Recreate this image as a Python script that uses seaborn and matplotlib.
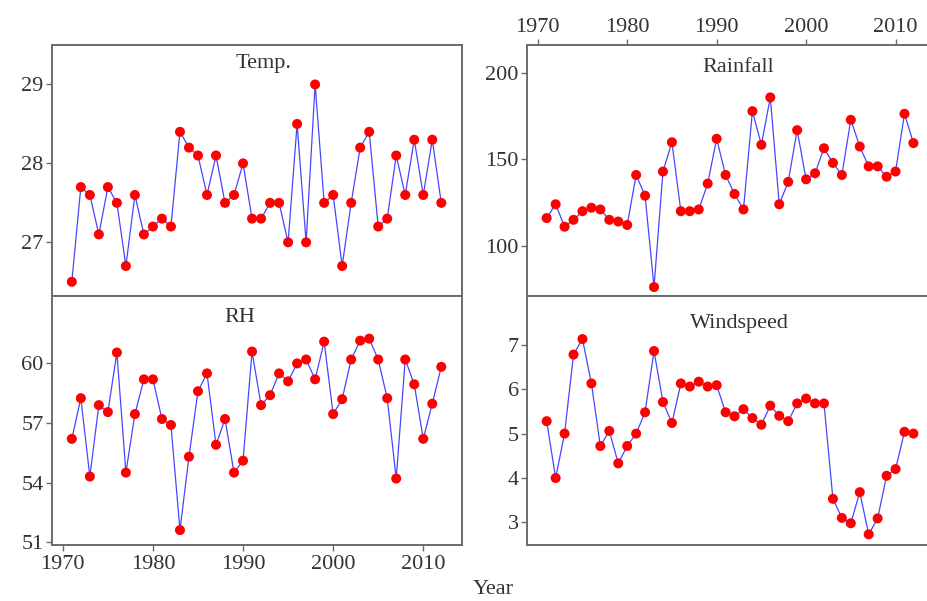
import numpy as np
import pandas as pd
import matplotlib
matplotlib.use('Agg')
import matplotlib.pyplot as plt
import seaborn as sns

years = list(range(1971, 2013))

temp = [26.5, 27.7, 27.6, 27.1, 27.7, 27.5, 26.7, 27.6, 27.1, 27.2,
        27.3, 27.2, 28.4, 28.2, 28.1, 27.6, 28.1, 27.5, 27.6, 28.0,
        27.3, 27.3, 27.5, 27.5, 27.0, 28.5, 27.0, 29.0, 27.5, 27.6,
        26.7, 27.5, 28.2, 28.4, 27.2, 27.3, 28.1, 27.6, 28.3, 27.6,
        28.3, 27.5]

rainfall = [116, 124, 111, 115, 120, 122, 121, 115, 114, 112,
            141, 129, 76, 143, 160, 120, 120, 121, 136, 162,
            141, 130, 121, 178, 158.5, 186, 124, 137, 167, 138.5,
            142, 156.5, 148, 141, 173, 157.5, 146, 146, 140, 143,
            176.5, 159.5]

rh = [56.2, 58.25, 54.3, 57.9, 57.55, 60.55, 54.5, 57.45, 59.2, 59.2,
      57.2, 56.9, 51.6, 55.3, 58.6, 59.5, 55.9, 57.2, 54.5, 55.1,
      60.6, 57.9, 58.4, 59.5, 59.1, 60.0, 60.2, 59.2, 61.1, 57.45,
      58.2, 60.2, 61.15, 61.25, 60.2, 58.25, 54.2, 60.2, 58.95, 56.2,
      57.97, 59.83]

windspeed = [5.28, 4.0, 5.0, 6.78, 7.13, 6.13, 4.72, 5.06, 4.33, 4.72,
             5.0, 5.48, 6.86, 5.71, 5.24, 6.13, 6.06, 6.17, 6.06, 6.09,
             5.48, 5.39, 5.55, 5.35, 5.2, 5.63, 5.4, 5.28, 5.68, 5.79,
             5.68, 5.68, 3.53, 3.1, 2.98, 3.68, 2.73, 3.09, 4.05, 4.2,
             5.04, 5.0]

year_ticks = [1970, 1980, 1990, 2000, 2010]

sns.set_style('ticks')
plt.rcParams['font.family'] = ['Liberation Serif', 'DejaVu Serif']

fig = plt.figure(figsize=(9.27, 6.01), dpi=100)

def fpos(x0, y0, x1, y1):
    # pixel box -> figure fraction
    return [x0 / 927, 1 - y1 / 601, (x1 - x0) / 927, (y1 - y0) / 601]

panels = [
    # name, data, pixel box, ylim, yticks, title pos, x ticks where
    ('Temp.', temp, (52, 45, 462, 296), (26.32, 29.5), [27, 28, 29], (0.515, 0.925), None),
    ('Rainfall', rainfall, (527, 45, 934, 296), (70.8, 216.4), [100, 150, 200], (0.518, 0.91), 'top'),
    ('RH', rh, (52, 296, 462, 545), (50.85, 63.4), [51, 54, 57, 60], (0.459, 0.915), 'bottom'),
    ('Windspeed', windspeed, (527, 296, 934, 545), (2.49, 8.1), [3, 4, 5, 6, 7], (0.523, 0.89), None),
]

spine_col = '#6b6b6b'
for name, vals, box, ylim, yticks, tpos, xside in panels:
    ax = fig.add_axes(fpos(*box))
    df = pd.DataFrame({'Year': years, 'val': vals})
    sns.lineplot(data=df, x='Year', y='val', ax=ax, color='#4646ff', lw=0.9)
    sns.scatterplot(data=df, x='Year', y='val', ax=ax, color='#ff0000',
                    s=52, edgecolor='none', zorder=3)
    ax.set_xlim(1968.8, 2014.3)
    ax.set_ylim(*ylim)
    ax.set_yticks(yticks)
    ax.set_xticks(year_ticks)
    ax.set_xlabel('')
    ax.set_ylabel('')
    for s in ax.spines.values():
        s.set_color(spine_col)
        s.set_linewidth(1.4)
    ax.tick_params(axis='y', direction='out', length=4, width=1,
                   color=spine_col, labelsize=16, pad=2, labelcolor='#333333')
    if xside == 'top':
        ax.tick_params(axis='x', bottom=False, labelbottom=False,
                       top=True, labeltop=True, direction='out', length=4,
                       width=1, color=spine_col, labelsize=16, pad=2,
                       labelcolor='#333333')
    elif xside == 'bottom':
        ax.tick_params(axis='x', direction='out', length=4, width=1,
                       color=spine_col, labelsize=16, pad=3,
                       labelcolor='#333333')
    else:
        ax.tick_params(axis='x', bottom=False, labelbottom=False)
    ax.text(tpos[0], tpos[1], name, transform=ax.transAxes, ha='center',
            va='center', fontsize=16, color='#333333')

fig.text(0.532, 0.004, 'Year', ha='center', va='bottom', fontsize=16,
         color='#333333')

fig.savefig('out.png', dpi=100)
